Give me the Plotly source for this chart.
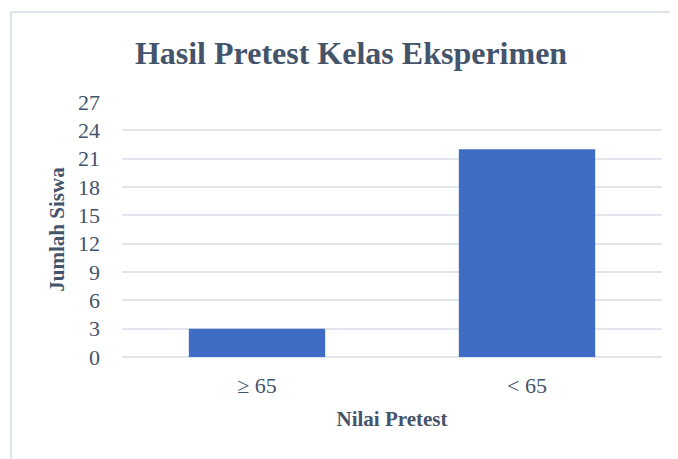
import plotly.graph_objects as go

# data
categories = ["\u2265 65", "< 65"]
jumlah_siswa = [3, 22]
y_ticks = [0, 3, 6, 9, 12, 15, 18, 21, 24, 27]

TEXT = "#44546A"
GRID = "#E1E5EB"
FONT = "Liberation Serif, Times New Roman, serif"

# the page body adds an 8px margin, so everything is placed 8px up/left;
# the figure overhangs the window so the frame lines reach the edges
W, H = 678, 459
ML, MR, MT, MB = 114, 24, 94, 110

fig = go.Figure(
    go.Bar(
        x=categories,
        y=jumlah_siswa,
        marker=dict(color="#3F6DC6", line=dict(width=0)),
    )
)

fig.update_layout(
    width=W, height=H,
    margin=dict(l=ML, r=MR, t=MT, b=MB),
    paper_bgcolor="white", plot_bgcolor="white",
    font=dict(family=FONT, color=TEXT),
    bargap=0.495,
    showlegend=False,
    title=dict(
        text="<b>Hasil Pretest Kelas Eksperimen</b>",
        font=dict(size=32, color=TEXT, family=FONT),
        x=343 / W, xanchor="center", xref="container",
        y=1 - 45 / H, yanchor="middle", yref="container",
    ),
)

fig.update_yaxes(
    range=[0, 27], tickvals=y_ticks,
    showgrid=True, gridcolor=GRID, gridwidth=1.5,
    zeroline=True, zerolinecolor=GRID, zerolinewidth=1.5,
    showline=False, ticks="", ticklabelstandoff=21,
    tickfont=dict(size=22, color=TEXT, family=FONT),
    title=dict(text="<b>Jumlah Siswa</b>", font=dict(size=21, color=TEXT, family=FONT), standoff=7),
)
fig.update_xaxes(
    showgrid=False, showline=False, ticks="", ticklabelstandoff=13,
    tickfont=dict(size=22, color=TEXT, family=FONT),
    title=dict(text="<b>Nilai Pretest</b>", font=dict(size=21, color=TEXT, family=FONT), standoff=14),
)

# chart-area frame (left and top edges visible in the reference)
pw, ph = W - ML - MR, H - MT - MB
x0 = (3 - ML) / pw
y0 = (H - MB - 4) / ph
fig.add_shape(type="line", xref="paper", yref="paper", x0=x0, x1=(W - ML) / pw, y0=y0, y1=y0,
              line=dict(color="#DDE3EA", width=2))
fig.add_shape(type="line", xref="paper", yref="paper", x0=x0, x1=x0, y0=y0, y1=(H - MB - H) / ph,
              line=dict(color="#DDE3EA", width=2))

fig.write_html("out.html")
